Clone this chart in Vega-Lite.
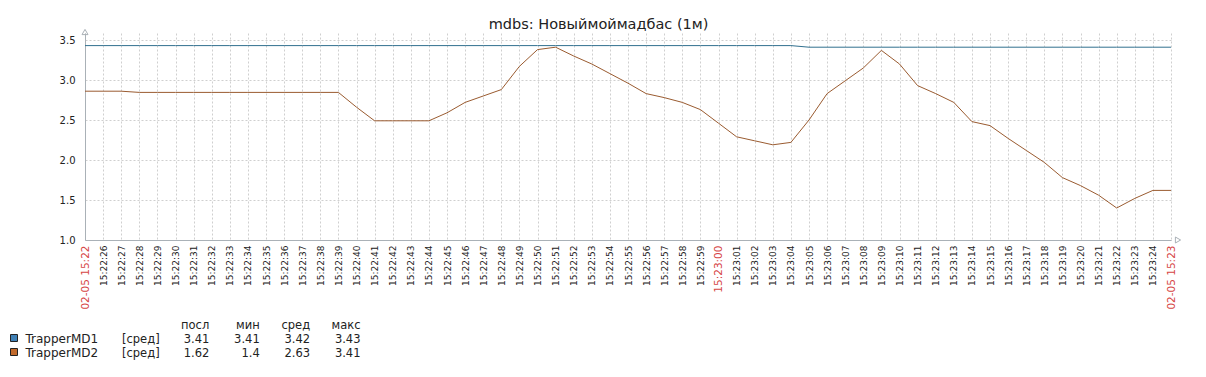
{
  "$schema": "https://vega.github.io/schema/vega-lite/v6.json",
  "background": "white",
  "padding": {"left": 8, "top": 16, "right": 0, "bottom": 0},
  "title": {"text": "mdbs: Новыймоймадбас (1м)", "font": "DejaVu Sans", "fontSize": 14.5, "fontWeight": "normal", "color": "#222222", "anchor": "middle", "offset": -5, "dx": 3},
  "config": {"view": {"stroke": null}, "font": "DejaVu Sans"},
  "columns": 1,
  "spacing": 10,
  "datasets": {
    "ts": [
      {"t": "2019-02-05T15:22:25Z", "TrapperMD1": 3.43, "TrapperMD2": 2.86},
      {"t": "2019-02-05T15:22:26Z", "TrapperMD1": 3.43, "TrapperMD2": 2.86},
      {"t": "2019-02-05T15:22:27Z", "TrapperMD1": 3.43, "TrapperMD2": 2.86},
      {"t": "2019-02-05T15:22:28Z", "TrapperMD1": 3.43, "TrapperMD2": 2.845},
      {"t": "2019-02-05T15:22:29Z", "TrapperMD1": 3.43, "TrapperMD2": 2.845},
      {"t": "2019-02-05T15:22:30Z", "TrapperMD1": 3.43, "TrapperMD2": 2.845},
      {"t": "2019-02-05T15:22:31Z", "TrapperMD1": 3.43, "TrapperMD2": 2.845},
      {"t": "2019-02-05T15:22:32Z", "TrapperMD1": 3.43, "TrapperMD2": 2.845},
      {"t": "2019-02-05T15:22:33Z", "TrapperMD1": 3.43, "TrapperMD2": 2.845},
      {"t": "2019-02-05T15:22:34Z", "TrapperMD1": 3.43, "TrapperMD2": 2.845},
      {"t": "2019-02-05T15:22:35Z", "TrapperMD1": 3.43, "TrapperMD2": 2.845},
      {"t": "2019-02-05T15:22:36Z", "TrapperMD1": 3.43, "TrapperMD2": 2.845},
      {"t": "2019-02-05T15:22:37Z", "TrapperMD1": 3.43, "TrapperMD2": 2.845},
      {"t": "2019-02-05T15:22:38Z", "TrapperMD1": 3.43, "TrapperMD2": 2.845},
      {"t": "2019-02-05T15:22:39Z", "TrapperMD1": 3.43, "TrapperMD2": 2.845},
      {"t": "2019-02-05T15:22:40Z", "TrapperMD1": 3.43, "TrapperMD2": 2.66},
      {"t": "2019-02-05T15:22:41Z", "TrapperMD1": 3.43, "TrapperMD2": 2.49},
      {"t": "2019-02-05T15:22:42Z", "TrapperMD1": 3.43, "TrapperMD2": 2.49},
      {"t": "2019-02-05T15:22:43Z", "TrapperMD1": 3.43, "TrapperMD2": 2.49},
      {"t": "2019-02-05T15:22:44Z", "TrapperMD1": 3.43, "TrapperMD2": 2.49},
      {"t": "2019-02-05T15:22:45Z", "TrapperMD1": 3.43, "TrapperMD2": 2.59},
      {"t": "2019-02-05T15:22:46Z", "TrapperMD1": 3.43, "TrapperMD2": 2.72},
      {"t": "2019-02-05T15:22:47Z", "TrapperMD1": 3.43, "TrapperMD2": 2.8},
      {"t": "2019-02-05T15:22:48Z", "TrapperMD1": 3.43, "TrapperMD2": 2.88},
      {"t": "2019-02-05T15:22:49Z", "TrapperMD1": 3.43, "TrapperMD2": 3.17},
      {"t": "2019-02-05T15:22:50Z", "TrapperMD1": 3.43, "TrapperMD2": 3.38},
      {"t": "2019-02-05T15:22:51Z", "TrapperMD1": 3.43, "TrapperMD2": 3.41},
      {"t": "2019-02-05T15:22:52Z", "TrapperMD1": 3.43, "TrapperMD2": 3.3},
      {"t": "2019-02-05T15:22:53Z", "TrapperMD1": 3.43, "TrapperMD2": 3.2},
      {"t": "2019-02-05T15:22:54Z", "TrapperMD1": 3.43, "TrapperMD2": 3.08},
      {"t": "2019-02-05T15:22:55Z", "TrapperMD1": 3.43, "TrapperMD2": 2.96},
      {"t": "2019-02-05T15:22:56Z", "TrapperMD1": 3.43, "TrapperMD2": 2.83},
      {"t": "2019-02-05T15:22:57Z", "TrapperMD1": 3.43, "TrapperMD2": 2.78},
      {"t": "2019-02-05T15:22:58Z", "TrapperMD1": 3.43, "TrapperMD2": 2.72},
      {"t": "2019-02-05T15:22:59Z", "TrapperMD1": 3.43, "TrapperMD2": 2.63},
      {"t": "2019-02-05T15:23:00Z", "TrapperMD1": 3.43, "TrapperMD2": 2.46},
      {"t": "2019-02-05T15:23:01Z", "TrapperMD1": 3.43, "TrapperMD2": 2.29},
      {"t": "2019-02-05T15:23:02Z", "TrapperMD1": 3.43, "TrapperMD2": 2.24},
      {"t": "2019-02-05T15:23:03Z", "TrapperMD1": 3.43, "TrapperMD2": 2.19},
      {"t": "2019-02-05T15:23:04Z", "TrapperMD1": 3.43, "TrapperMD2": 2.22},
      {"t": "2019-02-05T15:23:05Z", "TrapperMD1": 3.41, "TrapperMD2": 2.5},
      {"t": "2019-02-05T15:23:06Z", "TrapperMD1": 3.41, "TrapperMD2": 2.83},
      {"t": "2019-02-05T15:23:07Z", "TrapperMD1": 3.41, "TrapperMD2": 2.99},
      {"t": "2019-02-05T15:23:08Z", "TrapperMD1": 3.41, "TrapperMD2": 3.15},
      {"t": "2019-02-05T15:23:09Z", "TrapperMD1": 3.41, "TrapperMD2": 3.37},
      {"t": "2019-02-05T15:23:10Z", "TrapperMD1": 3.41, "TrapperMD2": 3.2},
      {"t": "2019-02-05T15:23:11Z", "TrapperMD1": 3.41, "TrapperMD2": 2.93},
      {"t": "2019-02-05T15:23:12Z", "TrapperMD1": 3.41, "TrapperMD2": 2.83},
      {"t": "2019-02-05T15:23:13Z", "TrapperMD1": 3.41, "TrapperMD2": 2.72},
      {"t": "2019-02-05T15:23:14Z", "TrapperMD1": 3.41, "TrapperMD2": 2.48},
      {"t": "2019-02-05T15:23:15Z", "TrapperMD1": 3.41, "TrapperMD2": 2.43},
      {"t": "2019-02-05T15:23:16Z", "TrapperMD1": 3.41, "TrapperMD2": 2.27},
      {"t": "2019-02-05T15:23:17Z", "TrapperMD1": 3.41, "TrapperMD2": 2.12},
      {"t": "2019-02-05T15:23:18Z", "TrapperMD1": 3.41, "TrapperMD2": 1.97},
      {"t": "2019-02-05T15:23:19Z", "TrapperMD1": 3.41, "TrapperMD2": 1.78},
      {"t": "2019-02-05T15:23:20Z", "TrapperMD1": 3.41, "TrapperMD2": 1.68},
      {"t": "2019-02-05T15:23:21Z", "TrapperMD1": 3.41, "TrapperMD2": 1.56},
      {"t": "2019-02-05T15:23:22Z", "TrapperMD1": 3.41, "TrapperMD2": 1.4},
      {"t": "2019-02-05T15:23:23Z", "TrapperMD1": 3.41, "TrapperMD2": 1.52},
      {"t": "2019-02-05T15:23:24Z", "TrapperMD1": 3.41, "TrapperMD2": 1.62},
      {"t": "2019-02-05T15:23:25Z", "TrapperMD1": 3.41, "TrapperMD2": 1.62}
    ],
    "legend": [
      {"series": "TrapperMD1", "func": "[сред]", "посл": 3.41, "мин": 3.41, "сред": 3.42, "макс": 3.43},
      {"series": "TrapperMD2", "func": "[сред]", "посл": 1.62, "мин": 1.4, "сред": 2.63, "макс": 3.41}
    ],
    "headers": [
      {"col": "посл"}, {"col": "мин"}, {"col": "сред"}, {"col": "макс"}
    ]
  },
  "concat": [
    {
      "width": 1086,
      "height": 207,
      "layer": [
        {
          "data": {"name": "ts"},
          "transform": [{"fold": ["TrapperMD1", "TrapperMD2"], "as": ["series", "v"]}],
          "mark": {"type": "line", "strokeWidth": 1},
          "encoding": {
            "x": {
              "field": "t", "type": "temporal",
              "scale": {"type": "utc", "nice": false, "domain": [1549380145000, 1549380205000]},
              "axis": {
                "title": null,
                "tickCount": 60,
                "labelExpr": "utcFormat(datum.value, '%H:%M:%S') == '15:22:25' ? '02-05 15:22' : (utcFormat(datum.value, '%H:%M:%S') == '15:23:25' ? '02-05 15:23' : utcFormat(datum.value, '%H:%M:%S'))",
                "labelAngle": 270,
                "labelPadding": 5,
                "labelFont": "DejaVu Sans",
                "labelFontSize": {"condition": {"test": "indexof(['15:22:25','15:23:00','15:23:25'], utcFormat(datum.value, '%H:%M:%S')) >= 0", "value": 10.5}, "value": 9},
                "labelColor": {"condition": {"test": "indexof(['15:22:25','15:23:00','15:23:25'], utcFormat(datum.value, '%H:%M:%S')) >= 0", "value": "#d64545"}, "value": "#222222"},
                "labelOverlap": false,
                "labelFlush": false,
                "labelBound": false,
                "ticks": false,
                "grid": true,
                "gridColor": "#cfcfcf",
                "gridDash": [2, 2],
                "gridWidth": 1,
                "domainColor": "#aab1b7",
                "domainWidth": 1
              }
            },
            "y": {
              "field": "v", "type": "quantitative",
              "scale": {"domain": [1, 3.5875], "nice": false, "zero": false},
              "axis": {
                "title": null,
                "values": [1, 1.25, 1.5, 1.75, 2, 2.25, 2.5, 2.75, 3, 3.25, 3.5],
                "labelExpr": "datum.value % 0.5 == 0 ? format(datum.value, '.1f') : ''",
                "labelFont": "DejaVu Sans",
                "labelFontSize": 10,
                "labelColor": "#222222",
                "labelPadding": 10,
                "ticks": false,
                "grid": true,
                "gridColor": "#cfcfcf",
                "gridDash": [2, 2],
                "gridWidth": 1,
                "domainColor": "#aab1b7",
                "domainWidth": 1,
                "minExtent": 75,
                "maxExtent": 75
              }
            },
            "stroke": {"field": "series", "type": "nominal", "scale": {"domain": ["TrapperMD1", "TrapperMD2"], "range": ["#31708f", "#9a5b30"]}, "legend": null}
          }
        },
        {
          "data": {"values": [{"t": "2019-02-05T15:22:25Z", "v": 3.5875}]},
          "mark": {"type": "point", "shape": "triangle-up", "filled": false, "size": 36, "stroke": "#aab1b7", "strokeWidth": 1, "yOffset": -1, "opacity": 1, "clip": false},
          "encoding": {
            "x": {"field": "t", "type": "temporal"},
            "y": {"field": "v", "type": "quantitative"}
          }
        },
        {
          "data": {"values": [{"t": "2019-02-05T15:23:25Z", "v": 1}]},
          "mark": {"type": "point", "shape": "triangle-right", "filled": false, "size": 36, "stroke": "#aab1b7", "strokeWidth": 1, "xOffset": 7, "opacity": 1, "clip": false},
          "encoding": {
            "x": {"field": "t", "type": "temporal"},
            "y": {"field": "v", "type": "quantitative"}
          }
        }
      ]
    },
    {
      "width": 252,
      "height": 28,
      "data": {"name": "legend"},
      "layer": [
        {
          "mark": {"type": "point", "shape": "square", "filled": true, "size": 49, "stroke": "#222222", "strokeWidth": 1, "opacity": 1, "xOffset": -71, "yOffset": -5},
          "encoding": {
            "x": {"datum": "name", "type": "nominal", "scale": {"type": "point", "padding": 0, "domain": ["name", "func", "посл", "мин", "сред", "макс"]}, "axis": null},
            "y": {"field": "series", "type": "nominal", "scale": {"type": "point", "padding": 0, "domain": ["hdr", "TrapperMD1", "TrapperMD2"]}, "axis": null},
            "fill": {"field": "series", "type": "nominal", "scale": {"domain": ["TrapperMD1", "TrapperMD2"], "range": ["#3f80b5", "#c26a2c"]}, "legend": null}
          }
        },
        {
          "mark": {"type": "text", "align": "left", "baseline": "alphabetic", "dx": -59.5, "font": "DejaVu Sans", "fontSize": 12, "color": "#222222"},
          "encoding": {
            "x": {"datum": "name", "type": "nominal"},
            "y": {"field": "series", "type": "nominal"},
            "text": {"field": "series", "type": "nominal"}
          }
        },
        {
          "mark": {"type": "text", "align": "left", "baseline": "alphabetic", "dx": -13.4, "font": "DejaVu Sans", "fontSize": 11.5, "color": "#222222"},
          "encoding": {
            "x": {"datum": "func", "type": "nominal"},
            "y": {"field": "series", "type": "nominal"},
            "text": {"field": "func", "type": "nominal"}
          }
        },
        {
          "transform": [{"fold": ["посл", "мин", "сред", "макс"], "as": ["col", "val"]}],
          "mark": {"type": "text", "align": "right", "baseline": "alphabetic", "dx": 23.5, "font": "DejaVu Sans", "fontSize": 11.5, "color": "#222222"},
          "encoding": {
            "x": {"field": "col", "type": "nominal"},
            "y": {"field": "series", "type": "nominal"},
            "text": {"field": "val", "type": "nominal"}
          }
        },
        {
          "data": {"name": "headers"},
          "mark": {"type": "text", "align": "right", "baseline": "alphabetic", "dx": 23.5, "font": "DejaVu Sans", "fontSize": 11.5, "color": "#222222"},
          "encoding": {
            "x": {"field": "col", "type": "nominal"},
            "y": {"datum": "hdr", "type": "nominal"},
            "text": {"field": "col", "type": "nominal"}
          }
        }
      ]
    }
  ]
}
